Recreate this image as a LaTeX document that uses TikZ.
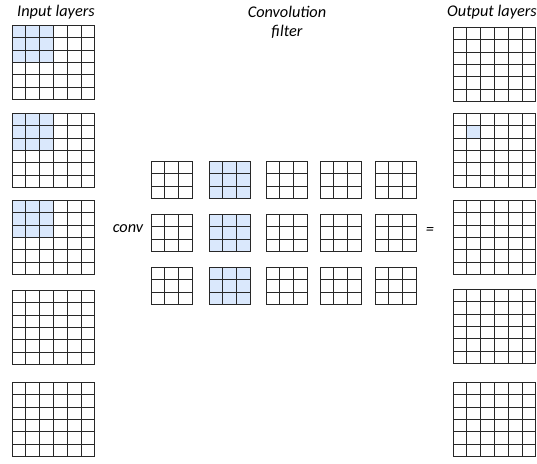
\documentclass[tikz,border=0pt]{standalone}
\usepackage{fontspec}
\setmainfont{Carlito}
\usepackage{tikz}
\usepackage{xcolor}
\definecolor{cellblue}{RGB}{218,232,252}
\definecolor{gridgray}{RGB}{40,40,40}

% n x n grid of cells, top-left corner at (#1,#2)
\newcommand{\cellgrid}[3]{%
  \begin{scope}[shift={(#1,#2)}, cell]
    \foreach \i in {0,...,#3} {
      \draw[gridline] (\i,0) -- (\i,#3);
      \draw[gridline] (0,\i) -- (#3,\i);
    }
  \end{scope}}
% blue block of #5 x #5 cells starting at column #3, row #4 inside grid at (#1,#2)
\newcommand{\cellfill}[5]{%
  \begin{scope}[shift={(#1,#2)}, cell]
    \fill[cellblue] (#3,#4) rectangle ++(#5,#5);
  \end{scope}}

\begin{document}
\begin{tikzpicture}[x=1pt, y=-1pt,
    cell/.style={x=13.8pt, y=-12.45pt},
    gridline/.style={draw=gridgray, line width=0.8pt, line cap=rect},
    title/.style={font=\itshape\fontsize{16.3}{19}\selectfont, align=center}]
    \useasboundingbox (0,0) rectangle (537,463);

    % titles
    \node[title] (intitle) at (56,12) {Input layers};
    \node[title] (filtertitle) at (287,22) {Convolution\\filter};
    \node[title] (outtitle) at (492,12) {Output layers};
    \node[title] (conv) at (128,229) {conv};
    \node[title] (eq) at (430,231) {=};

    % input layers
    \foreach \y in {25,113,200} \cellfill{12}{\y}{0}{0}{3};
    \foreach \y in {25,113,200,290,382} \cellgrid{12}{\y}{6};

    % convolution filters
    \foreach \y in {161,214,267} \cellfill{209}{\y}{0}{0}{3};
    \foreach \x in {151,209,266,320,375}
      \foreach \y in {161,214,267} \cellgrid{\x}{\y}{3};

    % output layers
    \cellfill{453}{113}{1}{1}{1}
    \foreach \y in {27,113,200,289,382} \cellgrid{453}{\y}{6};
\end{tikzpicture}
\end{document}
